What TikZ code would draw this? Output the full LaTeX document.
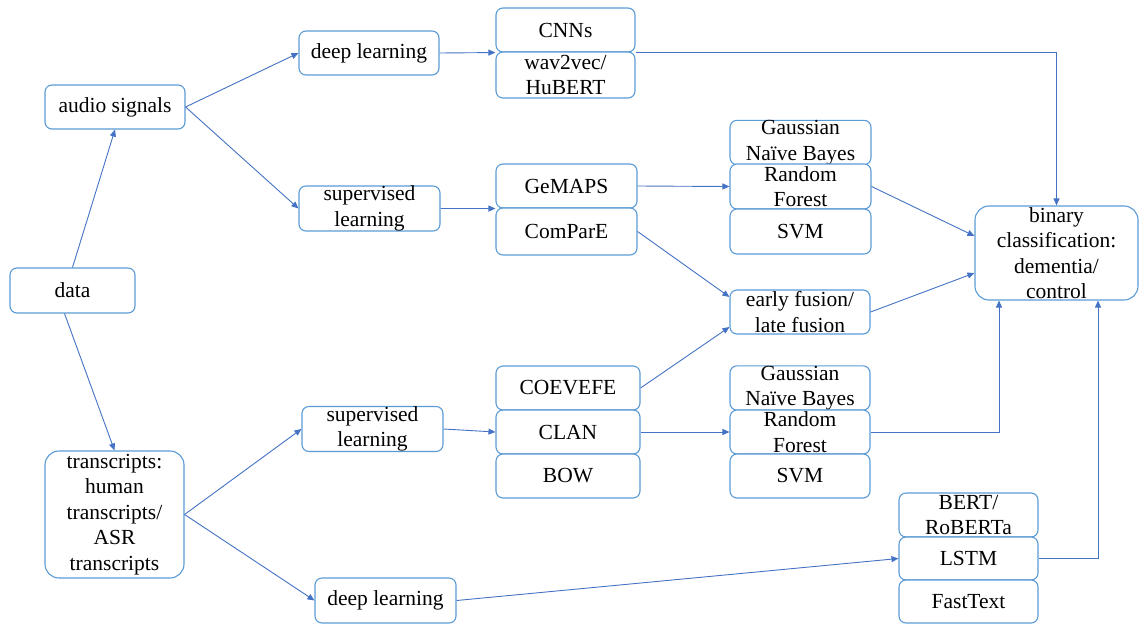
\documentclass[tikz,border=0pt]{standalone}
\usepackage{fontspec}
\setmainfont{Liberation Serif}
\usetikzlibrary{arrows.meta,calc}
\definecolor{boxline}{RGB}{91,155,213}
\definecolor{arrowline}{RGB}{68,114,196}
\begin{document}
\begin{tikzpicture}[x=1pt,y=-1pt,
  box/.style={draw=boxline, line width=1.1pt, rounded corners=7pt, fill=white,
    inner sep=0pt, align=center, text=black,
    font=\fontsize{21.5}{25.5}\selectfont},
  bigbox/.style={box, rounded corners=14pt},
  link/.style={draw=arrowline, line width=0.9pt,
    -{Triangle[length=7pt,width=6pt]}},
  plain/.style={draw=arrowline, line width=0.9pt}]
\useasboundingbox (0,0) rectangle (1140,624);

% sources
\node[box, minimum width=125pt, minimum height=45pt] (data) at (72.5,290.5) {data};
\node[box, minimum width=140pt, minimum height=44pt] (audio) at (115,107) {audio signals};
\node[bigbox, minimum width=139pt, minimum height=127pt] (trans) at (114.5,514.5)
  {transcripts:\\human\\transcripts/\\ASR\\transcripts};

% approaches
\node[box, minimum width=140pt, minimum height=44pt] (dla) at (369,53) {deep learning};
\node[box, minimum width=141pt, minimum height=45pt] (sla) at (369.5,208.5) {supervised\\learning};
\node[box, minimum width=141pt, minimum height=44pt] (slt) at (372.5,429) {supervised\\learning};
\node[box, minimum width=141pt, minimum height=45pt] (dlt) at (385.5,600.5) {deep learning};

% audio features and models
\node[box, minimum width=139pt, minimum height=44pt] (cnn) at (565.5,30) {CNNs};
\node[box, minimum width=139pt, minimum height=46pt] (wav) at (565.5,75) {wav2vec/\\HuBERT};
\node[box, minimum width=141pt, minimum height=44pt] (gem) at (566.5,186) {GeMAPS};
\node[box, minimum width=141pt, minimum height=47pt] (cmp) at (566.5,231.5) {ComParE};

% text features
\node[box, minimum width=144pt, minimum height=44pt] (coe) at (568,388) {COEVEFE};
\node[box, minimum width=144pt, minimum height=44pt] (clan) at (568,432) {CLAN};
\node[box, minimum width=144pt, minimum height=44pt] (bow) at (568,476) {BOW};

% classifiers
\node[box, minimum width=141pt, minimum height=43pt] (gnba) at (800.5,142.5) {Gaussian\\Naïve Bayes};
\node[box, minimum width=141pt, minimum height=45pt] (rfa) at (800.5,186.5) {Random\\Forest};
\node[box, minimum width=141pt, minimum height=45pt] (svma) at (800.5,231.5) {SVM};
\node[box, minimum width=140pt, minimum height=44pt] (fus) at (800,312) {early fusion/\\late fusion};
\node[box, minimum width=140pt, minimum height=44pt] (gnbt) at (800,388) {Gaussian\\Naïve Bayes};
\node[box, minimum width=140pt, minimum height=44pt] (rft) at (800,432) {Random\\Forest};
\node[box, minimum width=140pt, minimum height=44pt] (svmt) at (800,476) {SVM};

\node[box, minimum width=139pt, minimum height=44pt] (bert) at (968.5,515) {BERT/\\RoBERTa};
\node[box, minimum width=139pt, minimum height=43pt] (lstm) at (968.5,558.5) {LSTM};
\node[box, minimum width=139pt, minimum height=43pt] (ft) at (968.5,601.5) {FastText};

% outcome
\node[bigbox, minimum width=163pt, minimum height=94pt] (bin) at (1056.5,253)
  {binary\\classification:\\dementia/\\control};

% connectors
\draw[link] (data.north) -- (audio.south);
\draw[link] ([xshift=-8pt]data.south) -- (trans.north);
\draw[link] (audio.east) -- (dla.west);
\draw[link] (audio.east) -- (sla.west);
\draw[link] (dla.east) -- (cnn.south west);
\draw[link] (sla.east) -- (gem.south west);
\draw[link] (cnn.south east) -| (bin.north);
\draw[link] (gem.east) -- (rfa.west);
\draw[link] (rfa.east) -- ([yshift=17pt]bin.west);
\draw[link] (cmp.east) -- ([yshift=15pt]fus.west);
\draw[link] (fus.east) -- ([yshift=-20pt]bin.west);
\draw[link] (coe.east) -- ([yshift=-15pt]fus.west);
\draw[link] (trans.east) -- (slt.west);
\draw[link] (trans.east) -- (dlt.west);
\draw[link] (slt.east) -- (clan.west);
\draw[link] (clan.east) -- (rft.west);
\draw[link] (rft.east) -| ([xshift=-57.5pt]bin.south);
\draw[link] (lstm.east) -| ([xshift=41.5pt]bin.south);
\draw[link] (dlt.east) -- (lstm.west);
\end{tikzpicture}
\end{document}
